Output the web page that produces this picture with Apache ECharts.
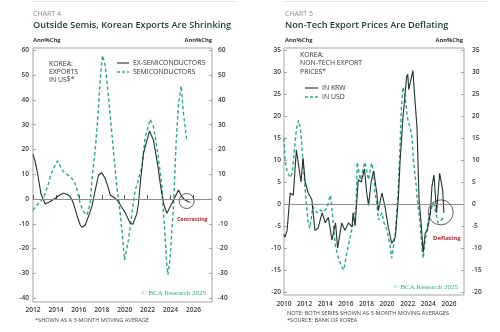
<!DOCTYPE html>
<html><head><meta charset="utf-8">
<script src="https://cdn.jsdelivr.net/npm/echarts@6/dist/echarts.min.js"></script>
<style>html,body{margin:0;padding:0;background:#fff}#c{width:500px;height:332px}</style>
</head><body><div id="c"></div>
<script>
// ---- Chart 4 data: [year, Ann%Chg] ----
const exSemi = [[2012.0,18],[2012.2,15],[2012.45,9],[2012.7,2],[2013.06,-2],[2013.5,-1],[2014.0,0.5],[2014.4,1.8],[2014.66,2.3],[2015.0,1.8],[2015.25,1],[2015.53,-1.7],[2015.83,-6.5],[2016.12,-10.5],[2016.27,-11.4],[2016.56,-10.5],[2016.84,-7],[2017.14,-3],[2017.43,3.6],[2017.72,9.7],[2018.01,10.6],[2018.3,8.3],[2018.59,4.3],[2018.74,1.6],[2018.88,0.9],[2019.18,0.3],[2019.46,-1.1],[2019.7,-3],[2020.05,-5.5],[2020.48,-9.8],[2020.72,-10.2],[2021.07,-5.8],[2021.2,-1.8],[2021.4,8],[2021.64,18.4],[2022.17,27.5],[2022.51,23.8],[2022.81,15.7],[2022.95,11.7],[2023.1,6.3],[2023.39,-1.8],[2023.68,-5.8],[2023.97,-3.1],[2024.26,-0.4],[2024.56,2.3],[2024.7,3.6],[2024.99,0.9],[2025.28,-0.4],[2025.57,-1.1],[2025.72,-1.3]];
const semi = [[2012.0,-4.6],[2012.34,-2.4],[2012.92,0.3],[2013.35,6.3],[2013.65,11],[2014.14,15.4],[2014.6,11.3],[2015.25,9],[2015.6,7.3],[2015.83,4],[2016.12,-1.8],[2016.41,-5.1],[2016.7,-6.5],[2016.84,-6.7],[2016.99,-1.8],[2017.14,8],[2017.43,19.8],[2017.66,33.2],[2017.86,48],[2018.06,58],[2018.3,54],[2018.59,41.2],[2018.88,26.5],[2019.18,11.7],[2019.32,5],[2019.61,-5.8],[2019.84,-16.5],[2019.98,-24.6],[2020.33,-16.5],[2020.63,-5.8],[2020.92,3.6],[2021.07,5.6],[2021.5,13],[2021.79,25],[2022.23,32.2],[2022.51,29.2],[2022.81,21],[2023.04,13],[2023.25,5],[2023.39,-5.8],[2023.54,-16.5],[2023.68,-27.3],[2023.77,-30.6],[2023.97,-23.3],[2024.12,-12.5],[2024.26,-3.1],[2024.35,7.6],[2024.5,23.8],[2024.7,38.5],[2024.93,45.7],[2025.13,34.6],[2025.43,23.1]];
const circle4 = [[2025.41,-0.8]];
const yTicks4 = [-40,-30,-20,-10,0,10,20,30,40,50,60];
const xTicks4 = [2012,2014,2016,2018,2020,2022,2024,2026];

// ---- Chart 5 data: [year, Ann%Chg] ----
const inKRW = [[2010.0,-7],[2010.1,-7.5],[2010.3,-6],[2010.6,2.5],[2010.9,2],[2011.2,12.3],[2011.35,12.7],[2011.65,5],[2011.85,10.5],[2012.05,5],[2012.35,2.5],[2012.7,1],[2013.0,-6],[2013.3,-5.5],[2013.7,-2],[2014.0,-4.3],[2014.3,-3],[2014.65,-8.2],[2015.0,-4.3],[2015.2,-10],[2015.6,-4.3],[2015.9,-6],[2016.25,-4.3],[2016.6,-5.2],[2016.7,-2],[2016.9,-5],[2017.2,5.5],[2017.5,5],[2017.8,8],[2018.0,3],[2018.2,-0.3],[2018.45,5],[2018.7,7.5],[2019.0,2.5],[2019.15,-1.5],[2019.5,2.5],[2019.8,-0.6],[2020.1,-5],[2020.45,-9],[2020.8,-7.5],[2021.1,1.7],[2021.25,9.3],[2021.55,20],[2021.9,29],[2022.0,29.5],[2022.1,26],[2022.5,30.3],[2022.7,23.6],[2022.9,17.5],[2023.0,9.3],[2023.1,1],[2023.3,-4.3],[2023.5,-11],[2023.7,-6.6],[2023.9,-6],[2024.2,-2],[2024.35,4],[2024.55,6.6],[2024.8,-2],[2025.1,7],[2025.4,3],[2025.5,-2]];
const inUSD = [[2010.0,15],[2010.1,10],[2010.3,7.5],[2010.6,6],[2010.8,7],[2011.0,12],[2011.2,17],[2011.4,19],[2011.6,17],[2011.8,11],[2012.0,5],[2012.2,-0.6],[2012.35,-4.3],[2012.5,-5.5],[2012.8,-0.6],[2013.2,-2],[2013.5,-1.3],[2013.8,-1.8],[2014.15,-1],[2014.5,2],[2014.6,0.2],[2014.8,-5.2],[2015.0,-9.7],[2015.25,-12],[2015.6,-14.3],[2015.8,-15],[2016.1,-11],[2016.4,-7.8],[2016.7,-4.3],[2017.0,-0.6],[2017.1,9.5],[2017.4,5.5],[2017.85,9.5],[2018.2,5.5],[2018.5,9.3],[2018.7,7.3],[2018.8,3],[2019.0,0.2],[2019.15,-3.6],[2019.5,-2],[2019.7,-4.3],[2020.0,-6],[2020.3,-9.7],[2020.45,-12.3],[2020.8,-6.6],[2021.1,3.9],[2021.25,13],[2021.4,22.5],[2021.55,26.6],[2021.75,24.3],[2021.95,19.8],[2022.2,17.5],[2022.4,15.7],[2022.55,10],[2022.8,4.8],[2022.9,1.7],[2023.2,-4.3],[2023.4,-10.5],[2023.5,-12.3],[2023.7,-8.2],[2024.0,-3.6],[2024.35,-0.6],[2024.5,0.2],[2024.65,-1.3],[2024.95,-4.3],[2025.3,-3.6],[2025.45,-3]];
const circle5 = [[2025.2,-1.9]];
const yTicks5 = [-20,-15,-10,-5,0,5,10,15,20,25,30,35];
const xTicks5 = [2010,2012,2014,2016,2018,2020,2022,2024,2026];

const DARK = '#1e342e', GREEN = '#2aa889', FRAME = '#a3a3a3', ZERO = '#8c8c8c', RED = '#a8242a';
const FF = '"Open Sans", sans-serif';
const lab = {fontFamily: FF, fontSize: 6.6, fontWeight: 600, color: '#3a3a3a', formatter: function (v) { return String(v); }};

function yAx(grid, min, max, ticks, pos, margin) {
  return {type:'value', gridIndex:grid, min:min, max:max, position:pos,
    axisLine:{show:false}, splitLine:{show:false},
    axisTick:{show:true, inside:true, length:3, lineStyle:{color:FRAME}, customValues:ticks},
    axisLabel:Object.assign({margin:margin, customValues:ticks}, lab)};
}
function xAx(grid, min, max, ticks, showTick, margin) {
  return {type:'value', gridIndex:grid, min:min, max:max,
    axisLine:{show:false}, splitLine:{show:false},
    axisTick:{show:showTick, inside:true, length:4, lineStyle:{color:'#555'}, customValues:ticks},
    axisLabel:Object.assign({margin:margin, customValues:ticks}, lab)};
}
const zeroLine = {silent:true, symbol:'none', label:{show:false}, lineStyle:{color:ZERO, type:'solid', width:1}, data:[{yAxis:0}]};

function T(x, y, text, font, fill, align) {
  return {type:'text', x:x, y:y, silent:true, style:{text:text, font:font, fill:fill, textAlign:align||'left', textVerticalAlign:'middle'}};
}
function L(x1, y1, x2, y2, stroke, w, dash) {
  return {type:'line', silent:true, shape:{x1:x1,y1:y1,x2:x2,y2:y2}, style:{stroke:stroke, lineWidth:w, lineDash:dash||null}};
}
const titleF = '600 9.2px ' + FF, smallF = '400 7px ' + FF, legF = '500 6.9px ' + FF;
const copyF = '7px "Liberation Serif", serif', noteF = '500 5.6px ' + FF;

const option = {
  backgroundColor:'#fff', animation:false,
  grid:[
    {left:33, top:48, width:179, height:254, show:true, borderColor:FRAME, borderWidth:1, backgroundColor:'transparent'},
    {left:284, top:48, width:180, height:247, show:true, borderColor:FRAME, borderWidth:1, backgroundColor:'transparent'}
  ],
  xAxis:[xAx(0, 2012, 2027.62, xTicks4, true, 5), xAx(1, 2010, 2027.46, xTicks5, false, 6)],
  yAxis:[
    yAx(0, -41.6, 61.0, yTicks4, 'left', 4), yAx(0, -41.6, 61.0, yTicks4, 'right', 6),
    yAx(1, -20.68, 35.45, yTicks5, 'left', 3), yAx(1, -20.68, 35.45, yTicks5, 'right', 8)
  ],
  series:[
    {name:'SEMICONDUCTORS', type:'line', xAxisIndex:0, yAxisIndex:0, data:semi, symbol:'none', smooth:false,
      lineStyle:{color:GREEN, width:1.4, type:[3.5,2.5]}, markLine:zeroLine, z:2},
    {name:'EX-SEMICONDUCTORS', type:'line', xAxisIndex:0, yAxisIndex:0, data:exSemi, symbol:'none',
      lineStyle:{color:DARK, width:1.1}, z:3},
    {type:'scatter', xAxisIndex:0, yAxisIndex:0, data:circle4, symbol:'circle', symbolSize:15, silent:true,
      itemStyle:{color:'rgba(0,0,0,0)', borderColor:'#222', borderWidth:0.9}, z:4},
    {name:'IN USD', type:'line', xAxisIndex:1, yAxisIndex:2, data:inUSD, symbol:'none',
      lineStyle:{color:GREEN, width:1.4, type:[3.5,2.5]}, markLine:zeroLine, z:2},
    {name:'IN KRW', type:'line', xAxisIndex:1, yAxisIndex:2, data:inKRW, symbol:'none',
      lineStyle:{color:DARK, width:1.1}, z:3},
    {type:'scatter', xAxisIndex:1, yAxisIndex:2, data:circle5, symbol:'circle', symbolSize:25, silent:true,
      itemStyle:{color:'rgba(0,0,0,0)', borderColor:'#222', borderWidth:0.9}, z:4}
  ],
  graphic:{elements:[
    L(33, 1.5, 236, 1.5, '#e2e2e2', 1), L(284, 1.5, 487, 1.5, '#e2e2e2', 1),
    // chart 4 header
    T(33, 13.5, 'CHART 4', smallF, '#8a8a8a'),
    T(33, 25, 'Outside Semis, Korean Exports Are Shrinking', titleF, '#1d3a36'),
    T(33, 40, 'Ann%Chg', '700 5.8px ' + FF, '#333'),
    T(212, 40, 'Ann%Chg', '700 5.8px ' + FF, '#333', 'right'),
    T(49, 64, 'KOREA:', legF, '#333'), T(49, 72, 'EXPORTS', legF, '#333'), T(49, 80, 'IN US$*', legF, '#333'),
    L(117, 63, 129, 63, DARK, 1.1), T(133, 63, 'EX-SEMICONDUCTORS', legF, '#333'),
    L(117, 72, 129, 72, GREEN, 1.4, [3,2]), T(133, 72, 'SEMICONDUCTORS', legF, '#333'),
    T(177, 220, 'Contracting', '700 5.2px ' + FF, RED),
    T(206, 293.5, '© BCA Research 2025', copyF, GREEN, 'right'),
    T(35, 320, '*SHOWN AS A 3-MONTH MOVING AVERAGE', noteF, '#444'),
    // chart 5 header
    T(285, 13.5, 'CHART 5', smallF, '#8a8a8a'),
    T(285, 25, 'Non-Tech Export Prices Are Deflating', titleF, '#1d3a36'),
    T(285, 40, 'Ann%Chg', '700 5.8px ' + FF, '#333'),
    T(463, 40, 'Ann%Chg', '700 5.8px ' + FF, '#333', 'right'),
    T(300, 55, 'KOREA:', legF, '#333'), T(300, 63.5, 'NON-TECH EXPORT', legF, '#333'), T(300, 72, 'PRICES*', legF, '#333'),
    L(305, 88, 318, 88, DARK, 1.1), T(322, 88, 'IN KRW', legF, '#333'),
    L(305, 97, 318, 97, GREEN, 1.4, [3,2]), T(322, 97, 'IN USD', legF, '#333'),
    T(433, 238.5, 'Deflating', '700 6px ' + FF, RED),
    T(458, 287, '© BCA Research 2025', copyF, GREEN, 'right'),
    T(287, 313.5, 'NOTE: BOTH SERIES SHOWN AS 3-MONTH MOVING AVERAGES', noteF, '#444'),
    T(287, 320, '*SOURCE: BANK OF KOREA', noteF, '#444')
  ]}
};
const chart = echarts.init(document.getElementById('c'), null, {renderer:'canvas'});
chart.setOption(option);
</script></body></html>
